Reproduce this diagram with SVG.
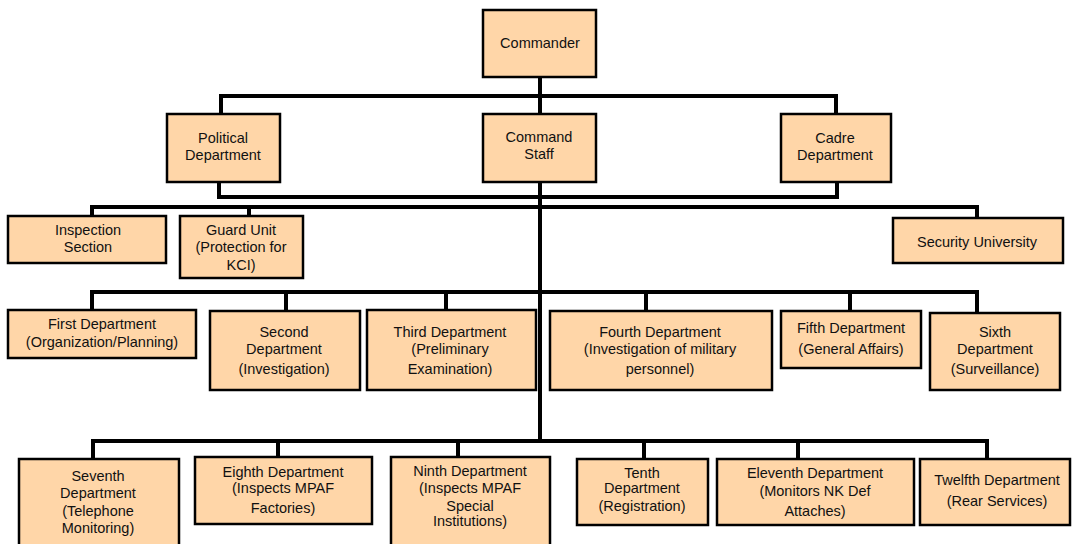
<svg xmlns="http://www.w3.org/2000/svg" width="1073" height="544" viewBox="0 0 1073 544">
<style>
.box{fill:#FFD6A8;stroke:#000;stroke-width:2.5}
.lbl{font-family:"Liberation Sans",Arial,sans-serif;font-size:14.5px;fill:#111;text-anchor:middle}
.con{fill:none;stroke:#000;stroke-width:4;stroke-linejoin:miter;stroke-linecap:butt}
</style>
<rect width="1073" height="544" fill="#fff"/>
<g id="connectors">
<path class="con" d="M540,77 V114 M221,113 V96 H836 V113"/>
<path class="con" d="M219,182 V197 H837 V182 M540,182 V441"/>
<path class="con" d="M92,216 V207 H977 V218 M249,207 V216"/>
<path class="con" d="M92,310 V292 H977 V313 M286,292 V311 M446,292 V310 M646,292 V311 M850,292 V311"/>
<path class="con" d="M93,459 V441 H987 V459 M278,441 V457 M458,441 V457 M644,441 V459 M798,441 V459"/>
</g>
<g id="commander"><rect class="box" x="483" y="10" width="113" height="67"/><text class="lbl" x="540" y="48">Commander</text></g>
<g id="political"><rect class="box" x="167" y="114" width="113" height="68"/><text class="lbl" x="223" y="143">Political</text><text class="lbl" x="223" y="160">Department</text></g>
<g id="command-staff"><rect class="box" x="483" y="114" width="113" height="68"/><text class="lbl" x="539" y="142">Command</text><text class="lbl" x="539" y="159">Staff</text></g>
<g id="cadre"><rect class="box" x="781" y="114" width="110" height="68"/><text class="lbl" x="835" y="143">Cadre</text><text class="lbl" x="835" y="160">Department</text></g>
<g id="inspection"><rect class="box" x="8" y="216" width="158" height="47"/><text class="lbl" x="88" y="235">Inspection</text><text class="lbl" x="88" y="252">Section</text></g>
<g id="guard"><rect class="box" x="180" y="216" width="123" height="62"/><text class="lbl" x="241" y="235">Guard Unit</text><text class="lbl" x="241" y="252">(Protection for</text><text class="lbl" x="241" y="270">KCI)</text></g>
<g id="university"><rect class="box" x="893" y="218" width="170" height="45"/><text class="lbl" x="977" y="247">Security University</text></g>
<g id="first"><rect class="box" x="8" y="310" width="188" height="48"/><text class="lbl" x="102" y="329">First Department</text><text class="lbl" x="102" y="347">(Organization/Planning)</text></g>
<g id="second"><rect class="box" x="210" y="311" width="150" height="79"/><text class="lbl" x="284" y="337">Second</text><text class="lbl" x="284" y="354">Department</text><text class="lbl" x="284" y="374">(Investigation)</text></g>
<g id="third"><rect class="box" x="367" y="310" width="169" height="80"/><text class="lbl" x="450" y="337">Third Department</text><text class="lbl" x="450" y="354">(Preliminary</text><text class="lbl" x="450" y="374">Examination)</text></g>
<g id="fourth"><rect class="box" x="550" y="311" width="222" height="79"/><text class="lbl" x="660" y="337">Fourth Department</text><text class="lbl" x="660" y="354">(Investigation of military</text><text class="lbl" x="660" y="374">personnel)</text></g>
<g id="fifth"><rect class="box" x="781" y="311" width="140" height="57"/><text class="lbl" x="851" y="333">Fifth Department</text><text class="lbl" x="851" y="354">(General Affairs)</text></g>
<g id="sixth"><rect class="box" x="930" y="313" width="130" height="77"/><text class="lbl" x="995" y="337">Sixth</text><text class="lbl" x="995" y="354">Department</text><text class="lbl" x="995" y="374">(Surveillance)</text></g>
<g id="seventh"><rect class="box" x="19" y="459" width="160" height="100"/><text class="lbl" x="98" y="481">Seventh</text><text class="lbl" x="98" y="498">Department</text><text class="lbl" x="98" y="516">(Telephone</text><text class="lbl" x="98" y="533">Monitoring)</text></g>
<g id="eighth"><rect class="box" x="195" y="457" width="177" height="67"/><text class="lbl" x="283" y="477">Eighth Department</text><text class="lbl" x="283" y="493">(Inspects MPAF</text><text class="lbl" x="283" y="513">Factories)</text></g>
<g id="ninth"><rect class="box" x="391" y="457" width="159" height="100"/><text class="lbl" x="470" y="476">Ninth Department</text><text class="lbl" x="470" y="493">(Inspects MPAF</text><text class="lbl" x="470" y="511">Special</text><text class="lbl" x="470" y="526">Institutions)</text></g>
<g id="tenth"><rect class="box" x="577" y="459" width="131" height="66"/><text class="lbl" x="642" y="478">Tenth</text><text class="lbl" x="642" y="493">Department</text><text class="lbl" x="642" y="511">(Registration)</text></g>
<g id="eleventh"><rect class="box" x="717" y="459" width="197" height="66"/><text class="lbl" x="815" y="478">Eleventh Department</text><text class="lbl" x="815" y="496">(Monitors NK Def</text><text class="lbl" x="815" y="516">Attaches)</text></g>
<g id="twelfth"><rect class="box" x="920" y="459" width="150" height="66"/><text class="lbl" x="997" y="485">Twelfth Department</text><text class="lbl" x="997" y="506">(Rear Services)</text></g>
</svg>
